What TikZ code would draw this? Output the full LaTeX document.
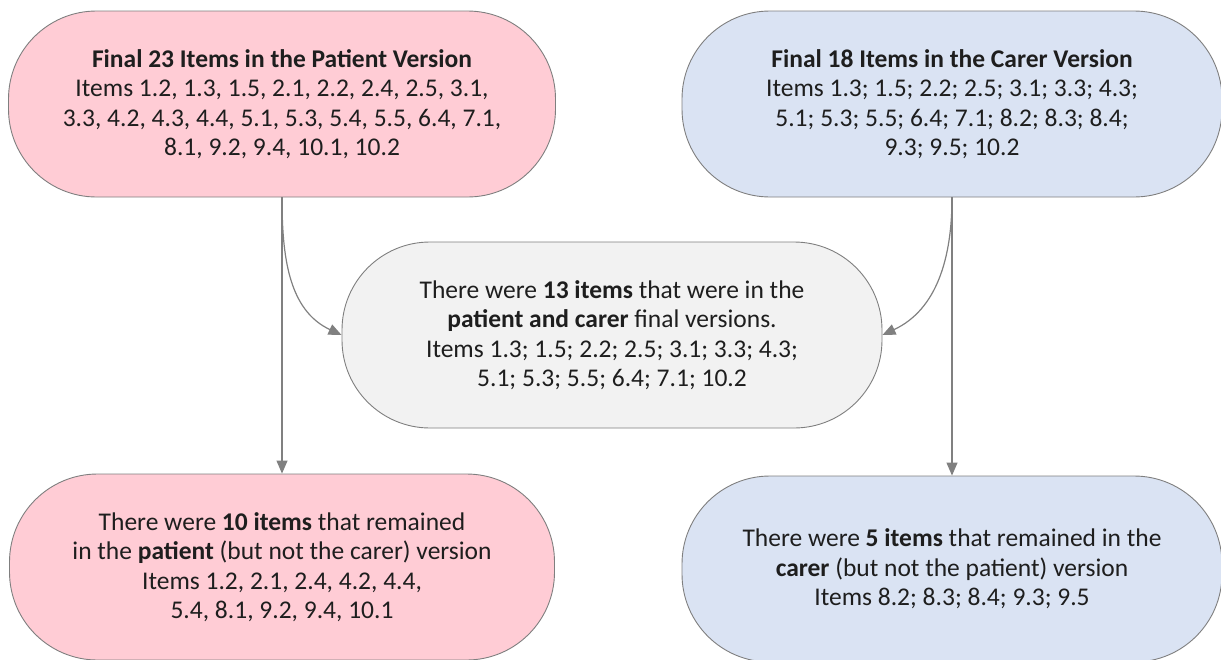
\documentclass[tikz,border=0pt]{standalone}
\usepackage{fontspec}
\setmainfont{Carlito}
\usetikzlibrary{arrows.meta}
\definecolor{pinkfill}{HTML}{FFCCD5}
\definecolor{bluefill}{HTML}{DAE3F3}
\definecolor{greyfill}{HTML}{F2F2F2}
\definecolor{edgegrey}{HTML}{7F7F7F}
\definecolor{linegrey}{HTML}{808080}
\definecolor{textdark}{HTML}{1E1E1E}
\begin{document}
\begin{tikzpicture}[x=1pt,y=-1pt,
  pill/.style={draw=edgegrey, line width=0.9pt, rounded corners=88pt,
    minimum width=540pt, minimum height=186pt, align=center,
    text=textdark, font=\fontsize{25.5}{29.5}\selectfont, inner sep=0pt},
  conn/.style={draw=linegrey, line width=1.2pt,
    -{Triangle[length=13pt,width=11pt]}, color=linegrey}]
\useasboundingbox (0,0) rectangle (1221,659);

\node[pill, fill=pinkfill, minimum width=547pt] (pt) at (282,104)
  {\textbf{Final 23 Items in the Patient Version}\\
   Items 1.2, 1.3, 1.5, 2.1, 2.2, 2.4, 2.5, 3.1,\\
   3.3, 4.2, 4.3, 4.4, 5.1, 5.3, 5.4, 5.5, 6.4, 7.1,\\
   8.1, 9.2, 9.4, 10.1, 10.2};

\node[pill, fill=bluefill] (ct) at (952,104)
  {\textbf{Final 18 Items in the Carer Version}\\
   Items 1.3; 1.5; 2.2; 2.5; 3.1; 3.3; 4.3;\\
   5.1; 5.3; 5.5; 6.4; 7.1; 8.2; 8.3; 8.4;\\
   9.3; 9.5; 10.2};

\node[pill, fill=greyfill] (cm) at (612,335)
  {There were \textbf{13 items} that were in the\\
   \textbf{patient and carer} final versions.\\
   Items 1.3; 1.5; 2.2; 2.5; 3.1; 3.3; 4.3;\\
   5.1; 5.3; 5.5; 6.4; 7.1; 10.2};

\node[pill, fill=pinkfill, minimum width=545pt] (pb) at (282,567)
  {There were \textbf{10 items} that remained\\
   in the \textbf{patient} (but not the carer) version\\
   Items 1.2, 2.1, 2.4, 4.2, 4.4,\\
   5.4, 8.1, 9.2, 9.4, 10.1};

\node[pill, fill=bluefill] (cb) at (952,569)
  {There were \textbf{5 items} that remained in the\\
   \textbf{carer} (but not the patient) version\\
   Items 8.2; 8.3; 8.4; 9.3; 9.5};

\draw[conn] (pt.south) -- (pb.north);
\draw[conn] (ct.south) -- (cb.north);
\draw[conn] (pt.south) to[out=-90, in=155] (cm.west);
\draw[conn] (ct.south) to[out=-90, in=25] (cm.east);
\end{tikzpicture}
\end{document}
